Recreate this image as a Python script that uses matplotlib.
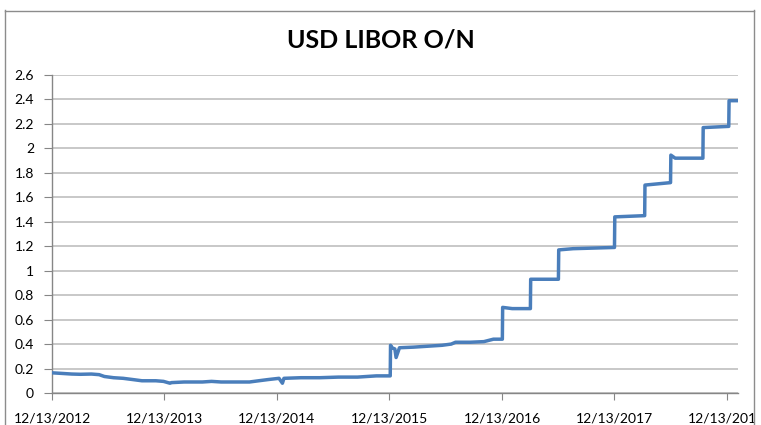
import matplotlib
matplotlib.use("Agg")
import matplotlib.pyplot as plt
import matplotlib.dates as mdates
from matplotlib.patches import Rectangle
from matplotlib.lines import Line2D
import pandas as pd

title = "USD LIBOR O/N"

dates = [
    "2012-12-13", "2013-01-15", "2013-02-15", "2013-03-15", "2013-04-20", "2013-05-15",
    "2013-06-01", "2013-07-01", "2013-08-01", "2013-09-01", "2013-10-01", "2013-11-15",
    "2013-12-10", "2013-12-31", "2014-01-05", "2014-02-15", "2014-04-15", "2014-05-15",
    "2014-06-15", "2014-08-01", "2014-09-15", "2014-10-15", "2014-11-15", "2014-12-20",
    "2014-12-31", "2015-01-05", "2015-03-01", "2015-05-01", "2015-07-01", "2015-09-01",
    "2015-10-01", "2015-11-01", "2015-12-16", "2015-12-17", "2015-12-22", "2015-12-31",
    "2016-01-04", "2016-01-15", "2016-03-01", "2016-05-01", "2016-06-01", "2016-07-01",
    "2016-07-15", "2016-09-01", "2016-10-15", "2016-11-15", "2016-12-14", "2016-12-15",
    "2017-01-15", "2017-03-15", "2017-03-16", "2017-06-14", "2017-06-15", "2017-08-01",
    "2017-12-13", "2017-12-14", "2018-03-21", "2018-03-22", "2018-06-13", "2018-06-14",
    "2018-06-28", "2018-09-26", "2018-09-27", "2018-12-19", "2018-12-20", "2019-01-14",
]
rates = [
    0.165, 0.160, 0.155, 0.153, 0.155, 0.150,
    0.135, 0.125, 0.120, 0.110, 0.100, 0.100,
    0.095, 0.080, 0.085, 0.090, 0.090, 0.095,
    0.090, 0.090, 0.090, 0.100, 0.110, 0.120,
    0.080, 0.120, 0.125, 0.125, 0.130, 0.130,
    0.135, 0.140, 0.140, 0.390, 0.370, 0.360,
    0.290, 0.370, 0.375, 0.385, 0.390, 0.400,
    0.415, 0.415, 0.420, 0.440, 0.440, 0.700,
    0.690, 0.690, 0.930, 0.930, 1.170, 1.180,
    1.190, 1.440, 1.450, 1.700, 1.720, 1.945,
    1.920, 1.920, 2.170, 2.180, 2.390, 2.390,
]

tick_dates = ["2012-12-13", "2013-12-13", "2014-12-13", "2015-12-13",
              "2016-12-13", "2017-12-13", "2018-12-13"]
tick_labels = ["12/13/2012", "12/13/2013", "12/13/2014", "12/13/2015",
               "12/13/2016", "12/13/2017", "12/13/2018"]
y_ticks = [0, 0.2, 0.4, 0.6, 0.8, 1.0, 1.2, 1.4, 1.6, 1.8, 2.0, 2.2, 2.4, 2.6]
y_labels = ["0", "0.2", "0.4", "0.6", "0.8", "1", "1.2", "1.4", "1.6", "1.8", "2", "2.2", "2.4", "2.6"]

plt.rcParams["font.family"] = ["Lato", "DejaVu Sans"]

W, H = 761, 425
fig = plt.figure(figsize=(W / 100, H / 100), dpi=100)
ax = fig.add_axes([52 / W, 32 / H, 686 / W, 318 / H])

x = pd.to_datetime(dates)
ax.plot(x, rates, color="#4A7EBB", lw=2.5, solid_joinstyle="round", zorder=3)

ax.set_ylim(0, 2.6)
ax.set_xlim(pd.Timestamp("2012-12-13"), pd.Timestamp("2019-01-18"))
ax.set_yticks(y_ticks)
ax.set_yticklabels(y_labels)
ax.set_xticks(pd.to_datetime(tick_dates))
ax.set_xticklabels(tick_labels)

ax.grid(axis="y", color="#BFBFBF", lw=1.2, zorder=0)
for s in ["top", "right"]:
    ax.spines[s].set_visible(False)
for s in ["left", "bottom"]:
    ax.spines[s].set_color("#868686")
    ax.spines[s].set_linewidth(1.0)
ax.tick_params(axis="y", length=6, color="#868686", labelsize=10, pad=7)
ax.tick_params(axis="x", length=5, color="#868686", labelsize=10, pad=9)

fig.text(381 / W, 1 - 40 / H, title, ha="center", va="center",
         fontsize=18, fontweight="bold", color="#000000")

# chart frame (clip labels on the right, as in the reference)
fig.patches.append(Rectangle((753.5 / W, 0), (W - 753.5) / W, 1, transform=fig.transFigure,
                             facecolor="white", edgecolor="none", zorder=10))
fig.lines.append(Line2D([4.5 / W, 4.5 / W], [0, 1 - 10 / H], transform=fig.transFigure,
                        color="#8C8C8C", lw=1.0, zorder=11))
fig.lines.append(Line2D([753.5 / W, 753.5 / W], [0, 1 - 10 / H], transform=fig.transFigure,
                        color="#8C8C8C", lw=1.0, zorder=11))
fig.lines.append(Line2D([4.5 / W, 753.5 / W], [1 - 10.5 / H, 1 - 10.5 / H], transform=fig.transFigure,
                        color="#8C8C8C", lw=1.0, zorder=11))

fig.savefig("out.png", dpi=100)
